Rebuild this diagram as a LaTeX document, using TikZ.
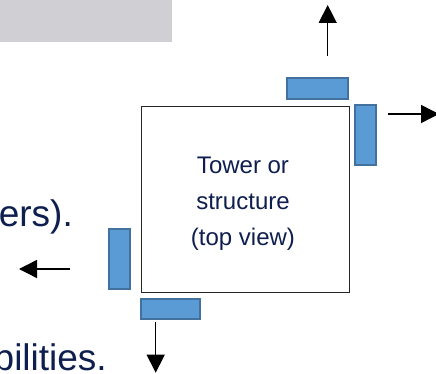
\documentclass[tikz,border=0pt]{standalone}
\usepackage{fontspec}
\setmainfont{Liberation Sans}
\usetikzlibrary{arrows.meta}
\definecolor{navy}{RGB}{14,30,78}
\definecolor{padfill}{RGB}{91,155,213}
\definecolor{padedge}{RGB}{65,113,156}
\definecolor{graybar}{RGB}{208,207,212}
\begin{document}
\begin{tikzpicture}[x=1pt,y=-1pt,
  pad/.style={draw=padedge,fill=padfill,line width=2pt,inner sep=0pt,outer sep=0pt},
  arr/.style={draw=black,line width=1.4pt,-{Triangle[length=18pt,width=18pt]}},
  sidetext/.style={text=navy,font=\fontsize{37}{44}\selectfont,inner sep=0pt}]
\useasboundingbox (0,0) rectangle (436,374);
\fill[graybar] (0,0) rectangle (172,42);
% side text (cut off at left)
\node[sidetext,anchor=base east] (t1) at (73,226) {ers).};
\node[sidetext,anchor=base east] (t2) at (107,370) {bilities.};
% tower
\node[draw=black!85,line width=1pt,minimum width=207.7pt,minimum height=186pt,inner sep=0pt] (tower) at (245.2,199.7) {};
\node[text=navy,align=center,font=\fontsize{24}{36}\selectfont,inner sep=0pt,anchor=center] (label) at (243,204) {Tower or\\structure\\(top view)};
% pads
\node[pad,minimum width=61pt,minimum height=20.4pt] (p1) at (317.2,88.5) {};
\node[pad,minimum width=20.4pt,minimum height=59.7pt] (p2) at (365.5,134.8) {};
\node[pad,minimum width=20.7pt,minimum height=60.6pt] (p3) at (119.7,259) {};
\node[pad,minimum width=59pt,minimum height=20.3pt] (p4) at (170.5,309.2) {};
% arrows
\coordinate (u0) at (327.7,56); \coordinate (u1) at (327.7,5);
\coordinate (r0) at (388,114); \coordinate (r1) at (439,114);
\coordinate (d0) at (155.7,321.7); \coordinate (d1) at (155.7,372.7);
\coordinate (l0) at (70,269); \coordinate (l1) at (19,269);
\draw[arr] (u0) -- (u1);
\draw[arr] (r0) -- (r1);
\draw[arr] (d0) -- (d1);
\draw[arr] (l0) -- (l1);
\end{tikzpicture}
\end{document}
